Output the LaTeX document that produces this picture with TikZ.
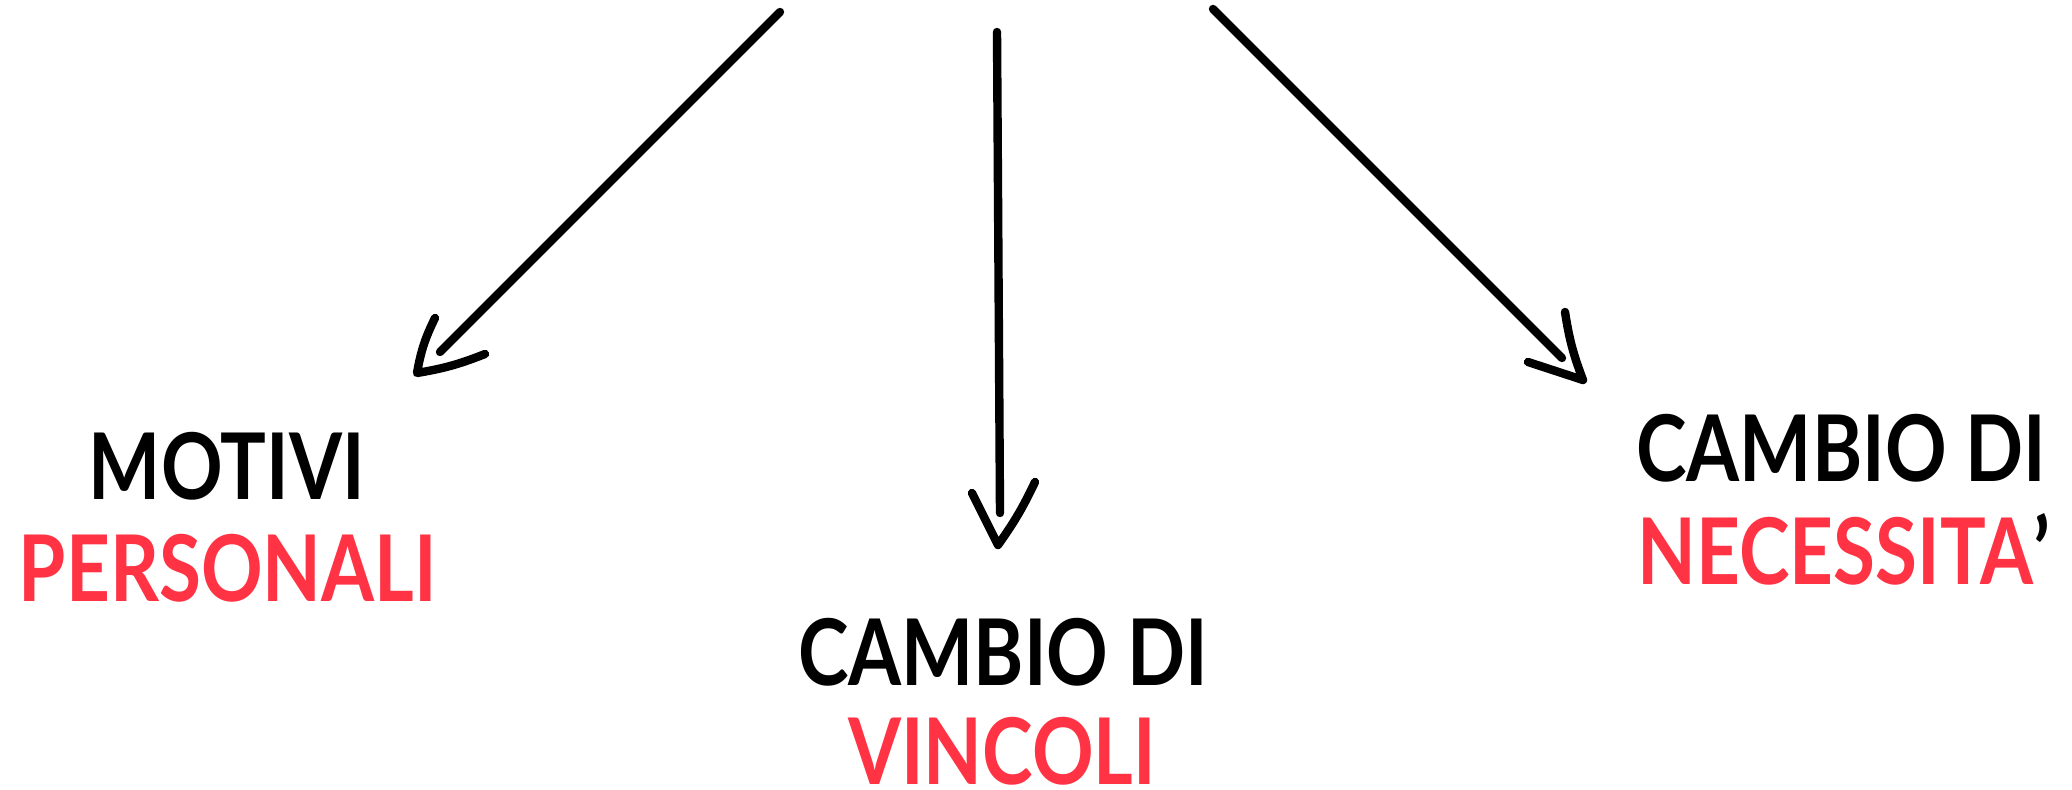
\documentclass[tikz,border=0pt]{standalone}
\usepackage{fontspec}
\setmainfont{Lato}
\newfontfamily\handfont[FakeStretch=0.83]{Lato}
\definecolor{hred}{RGB}{255,51,68}
\begin{document}
\begin{tikzpicture}[x=0.5pt,y=-0.5pt,
  conn/.style={line width=4.2pt,line cap=round,line join=round,black},
  lbl/.style={anchor=base,inner sep=0pt,text depth=0pt,font=\handfont\fontsize{46}{50}\selectfont\bfseries},
  blk/.style={lbl,text=black},
  redl/.style={lbl,text=hred}]
\useasboundingbox (0,0) rectangle (2072,790);
% start and end points
\coordinate (s1) at (780,12);
\coordinate (e1) at (440,352);
\coordinate (v1) at (417,373);
\coordinate (a1) at (435,318);
\coordinate (b1) at (485,354);
\coordinate (s2) at (997,32);
\coordinate (e2) at (1000,513);
\coordinate (v2) at (998,545);
\coordinate (a2) at (972,493);
\coordinate (b2) at (1035,482);
\coordinate (s3) at (1213,9);
\coordinate (e3) at (1562,358);
\coordinate (v3) at (1583,380);
\coordinate (a3) at (1565,312);
\coordinate (b3) at (1528,362);
% labels
\node[blk]  (t1) at (227,500) {MOTIVI};
\node[redl] (r1) at (228,602) {PERSONALI};
\node[blk]  (t2) at (1003,685) {CAMBIO DI};
\node[redl] (r2) at (1002,784) {VINCOLI};
\node[blk]  (t3) at (1841,482) {CAMBIO DI};
\node[redl] (r3) at (1844,585) {NECESSITA{\color{black}’}};
% connectors
\draw[conn] (s1) -- (e1);
\draw[conn] (a1) to[bend right=8] (v1) to[bend right=6] (b1);
\draw[conn] (s2) -- (e2);
\draw[conn] (a2) -- (v2) to[bend right=5] (b2);
\draw[conn] (s3) -- (e3);
\draw[conn] (a3) to[bend right=6] (v3) -- (b3);
\end{tikzpicture}
\end{document}
